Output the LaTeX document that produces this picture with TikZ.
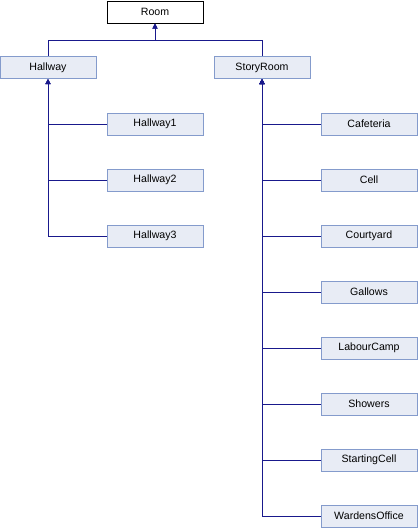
\documentclass[tikz,border=0pt]{standalone}
\usepackage{fontspec}
\setmainfont{Liberation Sans}
\usetikzlibrary{arrows.meta}
\definecolor{edgeblue}{RGB}{25,25,140}
\definecolor{boxfill}{RGB}{232,236,245}
\definecolor{boxline}{RGB}{132,155,204}
\begin{document}
\begin{tikzpicture}[x=1pt,y=-1pt,
  cls/.style={draw=boxline,fill=boxfill,line width=1pt,minimum width=96pt,minimum height=22pt,inner sep=0pt,font=\fontsize{10.6}{12}\selectfont},
  rootcls/.style={cls,draw=black,fill=white},
  arr/.style={draw=edgeblue,line width=1pt,-{Triangle[width=5pt,length=5pt]}}]
\useasboundingbox (0,0) rectangle (418,528);
\node[rootcls] (room) at (155,12) {Room};
\node[cls] (hallway) at (48,67.5) {Hallway};
\node[cls] (storyroom) at (262,67.5) {StoryRoom};
\node[cls] (h1) at (155,124) {Hallway1};
\node[cls] (h2) at (155,180) {Hallway2};
\node[cls] (h3) at (155,236) {Hallway3};
\node[cls] (c1) at (369,124) {Cafeteria};
\node[cls] (c2) at (369,180) {Cell};
\node[cls] (c3) at (369,236) {Courtyard};
\node[cls] (c4) at (369,292) {Gallows};
\node[cls] (c5) at (369,348) {LabourCamp};
\node[cls] (c6) at (369,404) {Showers};
\node[cls] (c7) at (369,460) {StartingCell};
\node[cls] (c8) at (369,516) {WardensOffice};
\coordinate (j) at (155,40);
\draw[arr] (hallway.north) |- (j) -- (room.south);
\draw[arr] (storyroom.north) |- (j) -- (room.south);
\foreach \n in {h1,h2,h3} \draw[arr] (\n.west) -| (hallway.south);
\foreach \n in {c1,c2,c3,c4,c5,c6,c7,c8} \draw[arr] (\n.west) -| (storyroom.south);
\end{tikzpicture}
\end{document}
